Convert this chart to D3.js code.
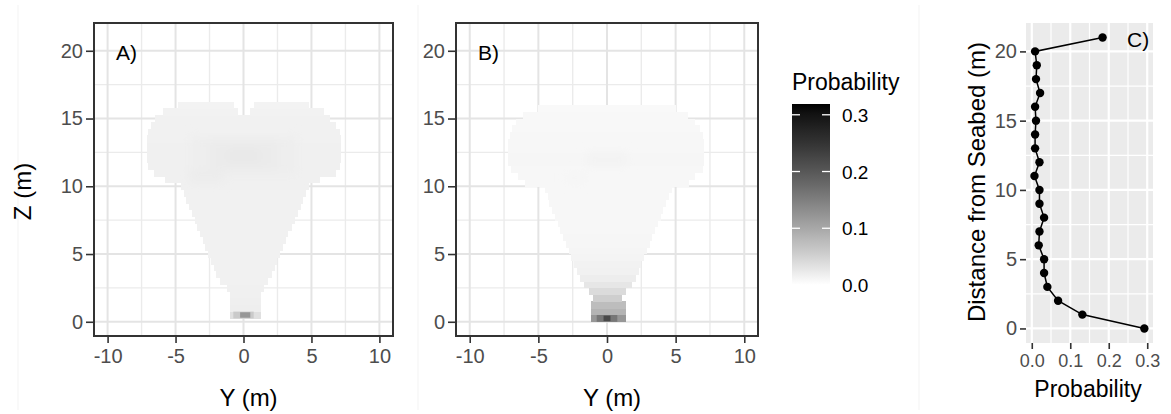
<!DOCTYPE html>
<html>
<head>
<meta charset="utf-8">
<script src="https://cdn.jsdelivr.net/npm/d3@7"></script>
<style>
  body { margin: 0; background: #ffffff; }
  svg text { font-family: "Liberation Sans", Arial, sans-serif; }
</style>
</head>
<body>
<svg id="fig" width="1171" height="414"></svg>
<script>
// ---------- Panel A: occupancy map, rows of 0.5 m cells (row centre z, lateral extent, probability)
const rowZA   = [0.5, 1.0, 1.5, 2.0, 2.5, 3.0, 3.5, 4.0, 4.5, 5.0, 5.5, 6.0, 6.5, 7.0, 7.5, 8.0,
                 8.5, 9.0, 9.5, 10.0, 10.5, 11.0, 11.5, 12.0, 12.5, 13.0, 13.5, 14.0, 14.5, 15.0, 15.5, 16.0];
const rowLoA  = [-1.0, -1.0, -1.0, -1.0, -1.2, -1.7, -2.0, -2.2, -2.4, -2.6, -2.8, -3.0, -3.2, -3.4, -3.6, -3.8,
                 -4.0, -4.2, -4.4, -4.6, -5.8, -6.6, -7.0, -7.1, -7.1, -7.1, -7.1, -7.0, -6.8, -6.5, -5.9, -4.8];
const rowHiA  = [1.3, 1.3, 1.3, 1.3, 1.5, 1.8, 2.1, 2.3, 2.5, 2.7, 2.9, 3.1, 3.3, 3.6, 3.8, 4.0,
                 4.2, 4.4, 4.6, 4.8, 5.6, 6.8, 7.1, 7.2, 7.2, 7.2, 7.2, 7.1, 6.8, 6.4, 5.9, 4.8];
// notch between the two lobes at the top (null = no notch)
const gapLoA  = [null, null, null, null, null, null, null, null, null, null, null, null, null, null, null, null,
                 null, null, null, null, null, null, null, null, null, null, null, null, null, null, -0.4, -0.7];
const gapHiA  = [null, null, null, null, null, null, null, null, null, null, null, null, null, null, null, null,
                 null, null, null, null, null, null, null, null, null, null, null, null, null, null, 0.5, 0.8];
const rowProbA = [0.035, 0.019, 0.018, 0.017, 0.017, 0.016, 0.016, 0.015, 0.015, 0.015, 0.015, 0.015, 0.015, 0.015, 0.015, 0.015,
                  0.015, 0.016, 0.016, 0.017, 0.017, 0.017, 0.017, 0.017, 0.017, 0.017, 0.016, 0.016, 0.015, 0.015, 0.014, 0.013];
// diffuse denser zones inside panel A: [Y from, Y to, Z from, Z to, probability]
const shadeA = [[-4.0, 4.0, 10.75, 13.75, 0.019],
                [-2.5, 2.5, 11.25, 13.25, 0.022],
                [-1.25, 1.25, 11.75, 12.75, 0.025],
                [-4.0, -1.5, 10.25, 11.25, 0.021]];
// dense cells at the bottom of panel A
const spotA  = [[-0.75, 0.75, 0.25, 0.75, 0.060],
                [-0.25, 0.5, 0.3, 0.7, 0.120]];

// ---------- Panel B
const rowZB   = [0.25, 0.75, 1.25, 1.75, 2.25, 2.75, 3.25, 3.75, 4.25, 4.75, 5.25, 5.75, 6.25, 6.75, 7.25, 7.75,
                 8.25, 8.75, 9.25, 9.75, 10.25, 10.75, 11.25, 11.75, 12.25, 12.75, 13.25, 13.75, 14.25, 14.75, 15.25, 15.75];
const rowLoB  = [-1.2, -1.2, -1.2, -1.0, -1.3, -1.7, -2.0, -2.2, -2.4, -2.6, -2.8, -3.0, -3.2, -3.4, -3.6, -3.8,
                 -4.0, -4.2, -4.3, -4.5, -6.0, -6.5, -7.0, -7.2, -7.2, -7.2, -7.2, -7.1, -6.9, -6.6, -6.1, -5.0];
const rowHiB  = [1.4, 1.4, 1.4, 1.1, 1.4, 1.8, 2.1, 2.3, 2.5, 2.7, 2.9, 3.1, 3.3, 3.5, 3.7, 3.9,
                 4.1, 4.3, 4.5, 4.7, 6.0, 6.4, 7.0, 7.1, 7.1, 7.1, 7.1, 7.0, 6.8, 6.4, 5.9, 5.0];
const gapLoB  = [null, null, null, null, null, null, null, null, null, null, null, null, null, null, null, null,
                 null, null, null, null, null, null, null, null, null, null, null, null, null, null, null, null];
const gapHiB  = [null, null, null, null, null, null, null, null, null, null, null, null, null, null, null, null,
                 null, null, null, null, null, null, null, null, null, null, null, null, null, null, null, null];
const rowProbB = [0.12, 0.085, 0.075, 0.055, 0.040, 0.028, 0.020, 0.016, 0.014, 0.012, 0.011, 0.010, 0.010, 0.009, 0.009, 0.009,
                  0.009, 0.009, 0.009, 0.009, 0.009, 0.009, 0.009, 0.010, 0.010, 0.009, 0.009, 0.009, 0.008, 0.008, 0.008, 0.007];
const shadeB = [[-1.5, 1.5, 11.5, 12.5, 0.013],
                [-3.0, -1.5, 10.25, 11.0, 0.011]];
const spotB  = [[-0.75, 0.75, 0.0, 0.5, 0.16],
                [-0.25, 0.25, 0.05, 0.45, 0.22]];

// ---------- Panel C: vertical profile
const seabedDistance = [0, 1, 2, 3, 4, 5, 6, 7, 8, 9, 10, 11, 12, 13, 14, 15, 16, 17, 18, 19, 20, 21];
const profileProb    = [0.2925, 0.1314, 0.0684, 0.0405, 0.032, 0.032, 0.018, 0.020, 0.032, 0.020, 0.020,
                        0.007, 0.020, 0.0086, 0.0086, 0.011, 0.0086, 0.0216, 0.011, 0.013, 0.0086, 0.184];

// ---------- scales / ticks
const fillLimits   = [0, 0.319];
const legendTicks  = [0, 0.1, 0.2, 0.3];
const lateralTicks = [-10, -5, 0, 5, 10];
const lateralMinor = [-7.5, -2.5, 2.5, 7.5];
const heightTicks  = [0, 5, 10, 15, 20];
const heightMinor  = [2.5, 7.5, 12.5, 17.5];
const probTicks    = [0, 0.1, 0.2, 0.3];
const probMinor    = [0.05, 0.15, 0.25];

const svg = d3.select("#fig");
const fill = d3.scaleLinear().domain(fillLimits).range(["#ffffff", "#000000"])
  .interpolate(d3.interpolateLab).clamp(true);

const tickColor = "#333333";
const tickText = "#4d4d4d";

// soft edges for the diffuse shading zones
svg.append("defs").append("filter").attr("id", "soft")
  .attr("x", "-50%").attr("y", "-50%").attr("width", "200%").attr("height", "200%")
  .append("feGaussianBlur").attr("stdDeviation", 5);

// faint separators between the three figure parts
[18, 418, 919].forEach(px => {
  svg.append("line").attr("x1", px).attr("x2", px).attr("y1", 5).attr("y2", 410)
    .attr("stroke", "#f3f3f3").attr("stroke-width", 1);
});

function heatPanel(box, rows, shades, spots, tag, yTitle, id) {
  const x = d3.scaleLinear().domain([-11, 11]).range([box.x0, box.x1]);
  const y = d3.scaleLinear().domain([-1.05, 22.05]).range([box.y1, box.y0]);
  const g = svg.append("g");

  g.append("clipPath").attr("id", id).append("rect")
    .attr("x", box.x0).attr("y", box.y0).attr("width", box.x1 - box.x0).attr("height", box.y1 - box.y0);

  g.append("rect").attr("x", box.x0).attr("y", box.y0)
    .attr("width", box.x1 - box.x0).attr("height", box.y1 - box.y0).attr("fill", "#ffffff");

  const grid = g.append("g").attr("clip-path", `url(#${id})`);
  grid.selectAll(".vminor").data(lateralMinor).join("line")
    .attr("x1", d => x(d)).attr("x2", d => x(d)).attr("y1", box.y0).attr("y2", box.y1)
    .attr("stroke", "#ebebeb").attr("stroke-width", 1.4);
  grid.selectAll(".hminor").data(heightMinor).join("line")
    .attr("y1", d => y(d)).attr("y2", d => y(d)).attr("x1", box.x0).attr("x2", box.x1)
    .attr("stroke", "#ebebeb").attr("stroke-width", 1.4);
  grid.selectAll(".vmajor").data(lateralTicks).join("line")
    .attr("x1", d => x(d)).attr("x2", d => x(d)).attr("y1", box.y0).attr("y2", box.y1)
    .attr("stroke", "#e4e4e4").attr("stroke-width", 2);
  grid.selectAll(".hmajor").data(heightTicks).join("line")
    .attr("y1", d => y(d)).attr("y2", d => y(d)).attr("x1", box.x0).attr("x2", box.x1)
    .attr("stroke", "#e4e4e4").attr("stroke-width", 2);

  // tiles: each row split into one or two segments around the top notch
  const segs = [];
  rows.forEach(r => {
    if (r.gLo === null) segs.push({ z: r.z, a: r.lo, b: r.hi, p: r.p });
    else {
      segs.push({ z: r.z, a: r.lo, b: r.gLo, p: r.p });
      segs.push({ z: r.z, a: r.gHi, b: r.hi, p: r.p });
    }
  });
  const tiles = g.append("g").attr("clip-path", `url(#${id})`);
  tiles.selectAll(".seg").data(segs).join("rect")
    .attr("x", d => x(d.a)).attr("width", d => x(d.b) - x(d.a))
    .attr("y", d => y(d.z + 0.25)).attr("height", d => y(d.z - 0.25) - y(d.z + 0.25) + 0.4)
    .attr("fill", d => fill(d.p)).attr("shape-rendering", "crispEdges");
  const zone = () => sel => sel
    .attr("x", d => x(d[0])).attr("width", d => x(d[1]) - x(d[0]))
    .attr("y", d => y(d[3])).attr("height", d => y(d[2]) - y(d[3]))
    .attr("fill", d => fill(d[4]));
  tiles.append("g").attr("filter", "url(#soft)")
    .selectAll("rect").data(shades).join("rect").call(zone());
  tiles.append("g").selectAll("rect").data(spots).join("rect").call(zone());

  // border
  g.append("rect").attr("x", box.x0).attr("y", box.y0)
    .attr("width", box.x1 - box.x0).attr("height", box.y1 - box.y0)
    .attr("fill", "none").attr("stroke", "#333333").attr("stroke-width", 2);

  // axes
  const ax = g.append("g").attr("transform", `translate(0,${box.y1 + 1})`)
    .call(d3.axisBottom(x).tickValues(lateralTicks).tickSize(6).tickPadding(6).tickFormat(d3.format("d")));
  const ay = g.append("g").attr("transform", `translate(${box.x0 - 1},0)`)
    .call(d3.axisLeft(y).tickValues(heightTicks).tickSize(7).tickPadding(3).tickFormat(d3.format("d")));
  [ax, ay].forEach(a => {
    a.select(".domain").remove();
    a.selectAll(".tick line").attr("stroke", tickColor).attr("stroke-width", 1.6);
    a.selectAll(".tick text").attr("fill", tickText).style("font-size", "20px")
      .style("font-family", '"Liberation Sans", Arial, sans-serif');
  });
  ax.selectAll(".tick text").text(d => d < 0 ? "-" + Math.abs(d) : d);

  g.append("text").attr("x", box.x0 + 22).attr("y", box.y0 + 37).text(tag)
    .attr("fill", "#000").style("font-size", "21px");

  g.append("text").attr("x", (box.x0 + box.x1) / 2 + 5).attr("y", 406).attr("text-anchor", "middle")
    .text("Y (m)").attr("fill", "#000").style("font-size", "24px");
  if (yTitle) {
    g.append("text").attr("transform", `translate(31,${(box.y0 + box.y1) / 2 + 12}) rotate(-90)`)
      .attr("text-anchor", "middle").text(yTitle).attr("fill", "#000").style("font-size", "24px");
  }
}

const mkRows = (zs, lo, hi, gl, gh, p) =>
  zs.map((z, i) => ({ z, lo: lo[i], hi: hi[i], gLo: gl[i], gHi: gh[i], p: p[i] }));

heatPanel({ x0: 94, x1: 393, y0: 23, y1: 336 },
  mkRows(rowZA, rowLoA, rowHiA, gapLoA, gapHiA, rowProbA), shadeA, spotA, "A)", "Z (m)", "clipA");
heatPanel({ x0: 456, x1: 758, y0: 23, y1: 336 },
  mkRows(rowZB, rowLoB, rowHiB, gapLoB, gapHiB, rowProbB), shadeB, spotB, "B)", null, "clipB");

// ---------- colour bar legend
(function legend() {
  const bx0 = 792, bx1 = 830, by0 = 104, by1 = 285;
  const ly = d3.scaleLinear().domain(fillLimits).range([by1, by0]);
  const defs = svg.append("defs");
  const grad = defs.append("linearGradient").attr("id", "probGrad")
    .attr("x1", 0).attr("y1", 1).attr("x2", 0).attr("y2", 0);
  d3.range(0, 1.0001, 0.05).forEach(t => {
    grad.append("stop").attr("offset", t).attr("stop-color", fill(fillLimits[0] + t * (fillLimits[1] - fillLimits[0])));
  });
  svg.append("text").attr("x", bx0).attr("y", 90).text("Probability")
    .attr("fill", "#000").style("font-size", "23px");
  svg.append("rect").attr("x", bx0).attr("y", by0).attr("width", bx1 - bx0).attr("height", by1 - by0)
    .attr("fill", "url(#probGrad)");
  const lt = svg.append("g");
  lt.selectAll(".l").data(legendTicks).join("line")
    .attr("x1", bx0).attr("x2", bx0 + 8).attr("y1", d => ly(d)).attr("y2", d => ly(d))
    .attr("stroke", "#ffffff").attr("stroke-width", 1.3);
  lt.selectAll(".r").data(legendTicks).join("line")
    .attr("x1", bx1 - 8).attr("x2", bx1).attr("y1", d => ly(d)).attr("y2", d => ly(d))
    .attr("stroke", "#ffffff").attr("stroke-width", 1.3);
  lt.selectAll("text").data(legendTicks).join("text")
    .attr("x", 842).attr("y", d => ly(d) + 7).text(d => d3.format(".1f")(d))
    .attr("fill", "#000").style("font-size", "19px");
})();

// ---------- panel C: profile
(function profile() {
  const box = { x0: 1026, x1: 1153, y0: 23, y1: 343 };
  const x = d3.scaleLinear().domain([-0.015, 0.315]).range([box.x0, box.x1]);
  const y = d3.scaleLinear().domain([-1.05, 22.05]).range([box.y1, box.y0]);
  const g = svg.append("g");
  g.append("rect").attr("x", box.x0).attr("y", box.y0).attr("width", box.x1 - box.x0)
    .attr("height", box.y1 - box.y0).attr("fill", "#ebebeb");
  g.selectAll(".vm").data(probMinor).join("line")
    .attr("x1", d => x(d)).attr("x2", d => x(d)).attr("y1", box.y0).attr("y2", box.y1)
    .attr("stroke", "#ffffff").attr("stroke-width", 1.2);
  g.selectAll(".hm").data(heightMinor).join("line")
    .attr("y1", d => y(d)).attr("y2", d => y(d)).attr("x1", box.x0).attr("x2", box.x1)
    .attr("stroke", "#ffffff").attr("stroke-width", 1.2);
  g.selectAll(".vM").data(probTicks).join("line")
    .attr("x1", d => x(d)).attr("x2", d => x(d)).attr("y1", box.y0).attr("y2", box.y1)
    .attr("stroke", "#ffffff").attr("stroke-width", 2.2);
  g.selectAll(".hM").data(heightTicks).join("line")
    .attr("y1", d => y(d)).attr("y2", d => y(d)).attr("x1", box.x0).attr("x2", box.x1)
    .attr("stroke", "#ffffff").attr("stroke-width", 2.2);

  const pts = seabedDistance.map((h, i) => ({ h, p: profileProb[i] }));
  g.append("path").datum(pts)
    .attr("d", d3.line().x(d => x(d.p)).y(d => y(d.h)))
    .attr("fill", "none").attr("stroke", "#000").attr("stroke-width", 1.5);
  g.selectAll("circle").data(pts).join("circle")
    .attr("cx", d => x(d.p)).attr("cy", d => y(d.h)).attr("r", 4.2).attr("fill", "#000");

  const ax = g.append("g").attr("transform", `translate(0,${box.y1})`)
    .call(d3.axisBottom(x).tickValues(probTicks).tickSize(6).tickPadding(5).tickFormat(d3.format(".1f")));
  const ay = g.append("g").attr("transform", `translate(${box.x0},0)`)
    .call(d3.axisLeft(y).tickValues(heightTicks).tickSize(6).tickPadding(3).tickFormat(d3.format("d")));
  [ax, ay].forEach(a => {
    a.select(".domain").remove();
    a.selectAll(".tick line").attr("stroke", tickColor).attr("stroke-width", 1.6);
    a.selectAll(".tick text").attr("fill", tickText)
      .style("font-family", '"Liberation Sans", Arial, sans-serif');
  });
  ax.selectAll(".tick text").style("font-size", "18px");
  ay.selectAll(".tick text").style("font-size", "20px");

  g.append("text").attr("x", 1127).attr("y", 47).text("C)").attr("fill", "#000").style("font-size", "21px");
  g.append("text").attr("x", 1088).attr("y", 397).attr("text-anchor", "middle").text("Probability")
    .attr("fill", "#000").style("font-size", "23px");
  g.append("text").attr("transform", `translate(985,182) rotate(-90)`).attr("text-anchor", "middle")
    .text("Distance from Seabed (m)").attr("fill", "#000").style("font-size", "24px");
})();
</script>
</body>
</html>
